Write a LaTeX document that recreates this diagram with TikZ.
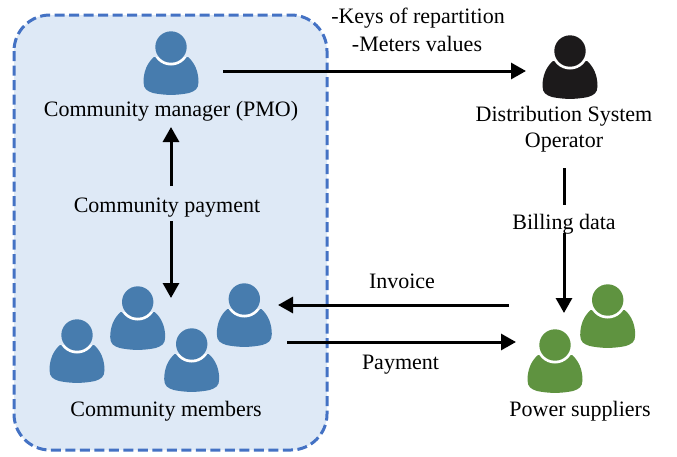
\documentclass[tikz,border=0pt]{standalone}
\usepackage{fontspec}
\setmainfont{Liberation Serif}
\usetikzlibrary{arrows.meta}
\definecolor{panelfill}{HTML}{DEE9F6}
\definecolor{paneldash}{HTML}{4472C4}
\definecolor{pblue}{HTML}{477CAE}
\definecolor{pgreen}{HTML}{5F9340}
\definecolor{pblack}{HTML}{1C1A1B}
\newcommand{\bodyshape}{(-17,10) .. controls (-24,16) and (-27.5,25) .. (-27.5,35)
      .. controls (-27.5,42) and (-24,44) .. (-18,46)
      .. controls (-6,48.5) and (6,48.5) .. (18,46)
      .. controls (24,44) and (27.5,42) .. (27.5,35)
      .. controls (27.5,25) and (24,16) .. (17,10) -- cycle}
\tikzset{
  lbl/.style={font=\fontsize{22}{26}\selectfont, inner sep=1pt, text=black},
  conn/.style={line width=3pt, -{Triangle[length=15pt,width=16pt]}},
  plain/.style={line width=3pt},
  person/.pic={
    \fill[pic actions] \bodyshape;
    \begin{scope}
      \clip \bodyshape;
      \fill[white] (0,0) circle (18.5);
    \end{scope}
    \fill[pic actions] (0,0) circle (15.7);
  },
}
\begin{document}
\begin{tikzpicture}[x=1pt,y=-1pt]
\useasboundingbox (0,0) rectangle (677,456);
\fill[white] (0,0) rectangle (677,456);
\fill[panelfill, rounded corners=36pt] (14,15) rectangle (327,450);
\draw[paneldash, line width=3pt, dash pattern=on 10pt off 4.5pt, rounded corners=36pt] (14,15) rectangle (327,450);

\pic[fill=pblue] at (171,47) {person};
\pic[fill=pblue] at (77,335) {person};
\pic[fill=pblue] at (137.7,302) {person};
\pic[fill=pblue] at (244.3,299) {person};
\pic[fill=pblue] at (191.7,344) {person};
\pic[fill=pblack] at (570,51) {person};
\pic[fill=pgreen] at (607.7,300) {person};
\pic[fill=pgreen] at (555,345) {person};

\node[lbl] (keys) at (418,18) {-Keys of repartition};
\node[lbl] (meters) at (417,43.5) {-Meters values};
\node[lbl] (mgrlabel) at (171,111) {Community manager (PMO)};
\node[lbl] (cp) at (167,207.5) {Community payment};
\node[lbl] (memlabel) at (166,411) {Community members};
\node[lbl] (dsolabel) at (564,116) {Distribution System};
\node[lbl] (oplabel) at (564,142.5) {Operator};
\node[lbl] (billing) at (564,224) {Billing data};
\node[lbl] (invoice) at (402,281.5) {Invoice};
\node[lbl] (payment) at (400.5,364.5) {Payment};
\node[lbl] (pslabel) at (580,411) {Power suppliers};

\coordinate (mgrout) at (223,71);
\coordinate (dsoin) at (526,71);
\coordinate (mgrup) at (171,127);
\coordinate (cpup) at (171,186);
\coordinate (cpdown) at (171,221);
\coordinate (memin) at (171,298);
\coordinate (opout) at (564,168);
\coordinate (billup) at (564,205);
\coordinate (billdown) at (564,233);
\coordinate (psin) at (564,313);
\coordinate (psinv) at (509,305);
\coordinate (meminv) at (278,305);
\coordinate (mempay) at (287,342);
\coordinate (pspay) at (516,342);

\draw[conn] (mgrout) -- (dsoin);
\draw[conn] (cpup) -- (mgrup);
\draw[conn] (cpdown) -- (memin);
\draw[plain] (opout) -- (billup);
\draw[conn] (billdown) -- (psin);
\draw[conn] (psinv) -- (meminv);
\draw[conn] (mempay) -- (pspay);
\end{tikzpicture}
\end{document}
